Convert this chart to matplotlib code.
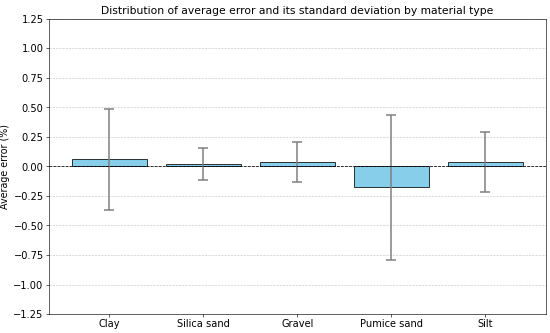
import numpy as np
import matplotlib
matplotlib.use('Agg')
import matplotlib.pyplot as plt

materials = ['Clay', 'Silica sand', 'Gravel', 'Pumice sand', 'Silt']
avg_error = [0.06, 0.018, 0.04, -0.175, 0.04]
std_error = [0.43, 0.135, 0.17, 0.615, 0.255]

fig, ax = plt.subplots(figsize=(10, 6.055), dpi=55)

ax.bar(materials, avg_error, yerr=std_error, color='skyblue', edgecolor='black',
       width=0.8, capsize=7, error_kw={'ecolor': 'gray', 'elinewidth': 2, 'capthick': 2})
ax.axhline(0, color='black', linestyle='--', linewidth=1)

ax.set_ylim(-1.25, 1.25)
ax.set_yticks(np.arange(-1.25, 1.26, 0.25))
ax.set_ylabel('Average error (%)', fontsize=12.5)
ax.set_title('Distribution of average error and its standard deviation by material type', fontsize=14)
ax.tick_params(axis='both', labelsize=13)
ax.yaxis.grid(True, linestyle='--', alpha=0.7)
ax.set_axisbelow(True)

fig.subplots_adjust(left=0.089, right=0.992, top=0.943, bottom=0.057)
fig.savefig('out.png', dpi=55)
